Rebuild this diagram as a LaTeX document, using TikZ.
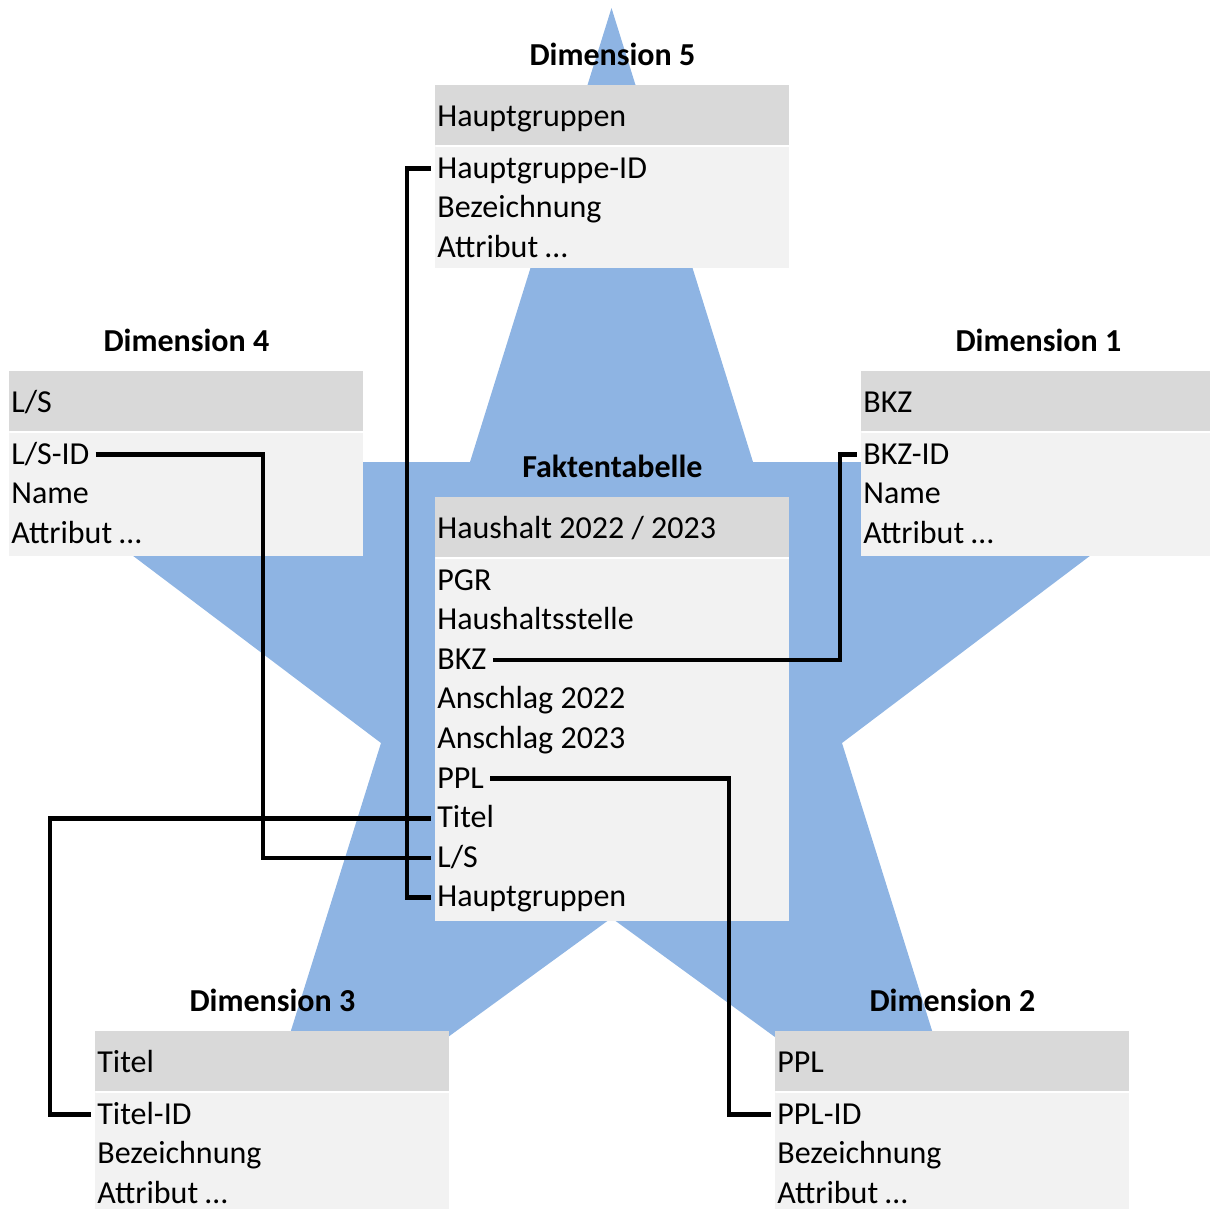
\documentclass[tikz,border=0pt]{standalone}
\usepackage{fontspec}
\setmainfont{Carlito}
\usetikzlibrary{positioning}
\definecolor{starblue}{RGB}{142,180,227}
\definecolor{headgray}{RGB}{217,217,217}
\definecolor{bodygray}{RGB}{242,242,242}
\tikzstyle{title} = [font=\fontsize{16}{19}\selectfont\bfseries, inner sep=0pt, text depth=0pt]
\tikzstyle{head} = [rectangle, fill=headgray, anchor=north west, minimum width=177pt, minimum height=30.5pt, text width=175pt, inner xsep=1pt, align=flush left, text height=12.5pt, text depth=2pt, font=\fontsize{16}{19}\selectfont]
\tikzstyle{body} = [rectangle, fill=bodygray, minimum width=177pt, inner sep=0pt,
    path picture={\draw [white, line width=2pt] (path picture bounding box.north west) -- (path picture bounding box.north east);}]
\tikzstyle{row} = [inner xsep=3pt, inner ysep=0pt, minimum height=19.4pt, text height=12pt, text depth=2.5pt, font=\fontsize{16}{19}\selectfont]
\tikzstyle{link} = [line width=2.3pt]

\begin{document}
\begin{tikzpicture}[x=0.5pt, y=-0.5pt]
    \useasboundingbox (0,0) rectangle (1210,1209);
    %Stern im Hintergrund
    \fill [starblue] (611.5,8) -- (753,462) -- (1213,463) -- (842,743) -- (981,1187)
        -- (611.5,918) -- (242,1187) -- (381,743) -- (10,463) -- (470,462) -- cycle;

    %Dimension 5
    \node (h5) [head] at (435,85) {Hauptgruppen};
    \node (t5) [title, above=9.5pt of h5] {Dimension 5};
    \node (b5) [body, minimum height=61.5pt, below=-1pt of h5] {};
    \node (d5a) [row, below right=2pt and -2pt of b5.north west] {Hauptgruppe-ID};
    \node (d5b) [row, below right=0pt of d5a.south west] {Bezeichnung};
    \node (d5c) [row, below right=0pt of d5b.south west] {Attribut …};

    %Dimension 4
    \node (h4) [head] at (9,371) {L/S};
    \node (t4) [title, above=9.5pt of h4] {Dimension 4};
    \node (b4) [body, minimum height=62.5pt, below=-1pt of h4] {};
    \node (d4a) [row, below right=2pt and -2pt of b4.north west] {L/S-ID};
    \node (d4b) [row, below right=0pt of d4a.south west] {Name};
    \node (d4c) [row, below right=0pt of d4b.south west] {Attribut …};

    %Dimension 1
    \node (h1) [head] at (861,371) {BKZ};
    \node (t1) [title, above=9.5pt of h1] {Dimension 1};
    \node (b1) [body, minimum height=62.5pt, below=-1pt of h1] {};
    \node (d1a) [row, below right=2pt and -2pt of b1.north west] {BKZ-ID};
    \node (d1b) [row, below right=0pt of d1a.south west] {Name};
    \node (d1c) [row, below right=0pt of d1b.south west] {Attribut …};

    %Faktentabelle
    \node (hf) [head] at (435,497) {Haushalt 2022 / 2023};
    \node (tf) [title, above=9.5pt of hf] {Faktentabelle};
    \node (bf) [body, minimum height=182pt, below=-1pt of hf] {};
    \node (f1) [row, below right=2pt and -2pt of bf.north west] {PGR};
    \node (f2) [row, below right=0pt of f1.south west] {Haushaltsstelle};
    \node (f3) [row, below right=0pt of f2.south west] {BKZ};
    \node (f4) [row, below right=0pt of f3.south west] {Anschlag 2022};
    \node (f5) [row, below right=0pt of f4.south west] {Anschlag 2023};
    \node (f6) [row, below right=0pt of f5.south west] {PPL};
    \node (f7) [row, below right=0pt of f6.south west] {Titel};
    \node (f8) [row, below right=0pt of f7.south west] {L/S};
    \node (f9) [row, below right=0pt of f8.south west] {Hauptgruppen};

    %Dimension 3
    \node (h3) [head] at (95,1031) {Titel};
    \node (t3) [title, above=9.5pt of h3] {Dimension 3};
    \node (b3) [body, minimum height=61pt, below=-1pt of h3] {};
    \node (d3a) [row, below right=2pt and -2pt of b3.north west] {Titel-ID};
    \node (d3b) [row, below right=0pt of d3a.south west] {Bezeichnung};
    \node (d3c) [row, below right=0pt of d3b.south west] {Attribut …};

    %Dimension 2
    \node (h2) [head] at (775,1031) {PPL};
    \node (t2) [title, above=9.5pt of h2] {Dimension 2};
    \node (b2) [body, minimum height=61pt, below=-1pt of h2] {};
    \node (d2a) [row, below right=2pt and -2pt of b2.north west] {PPL-ID};
    \node (d2b) [row, below right=0pt of d2a.south west] {Bezeichnung};
    \node (d2c) [row, below right=0pt of d2b.south west] {Attribut …};

    %Verbindungen
    \coordinate (hgbus) at (407,0);
    \coordinate (lsbus) at (263,0);
    \coordinate (tbus) at (50,0);
    \coordinate (bkzbus) at (840,0);
    \coordinate (pplbus) at (729,0);
    \draw [link] (d5a.west) -- (d5a.west -| hgbus) |- (f9.west);
    \draw [link] (d4a.east) -- (d4a.east -| lsbus) |- (f8.west);
    \draw [link] (d3a.west) -- (d3a.west -| tbus) |- (f7.west);
    \draw [link] (f3.east) -- (f3.east -| bkzbus) |- (d1a.west);
    \draw [link] (f6.east) -- (f6.east -| pplbus) |- (d2a.west);
\end{tikzpicture}
\end{document}
